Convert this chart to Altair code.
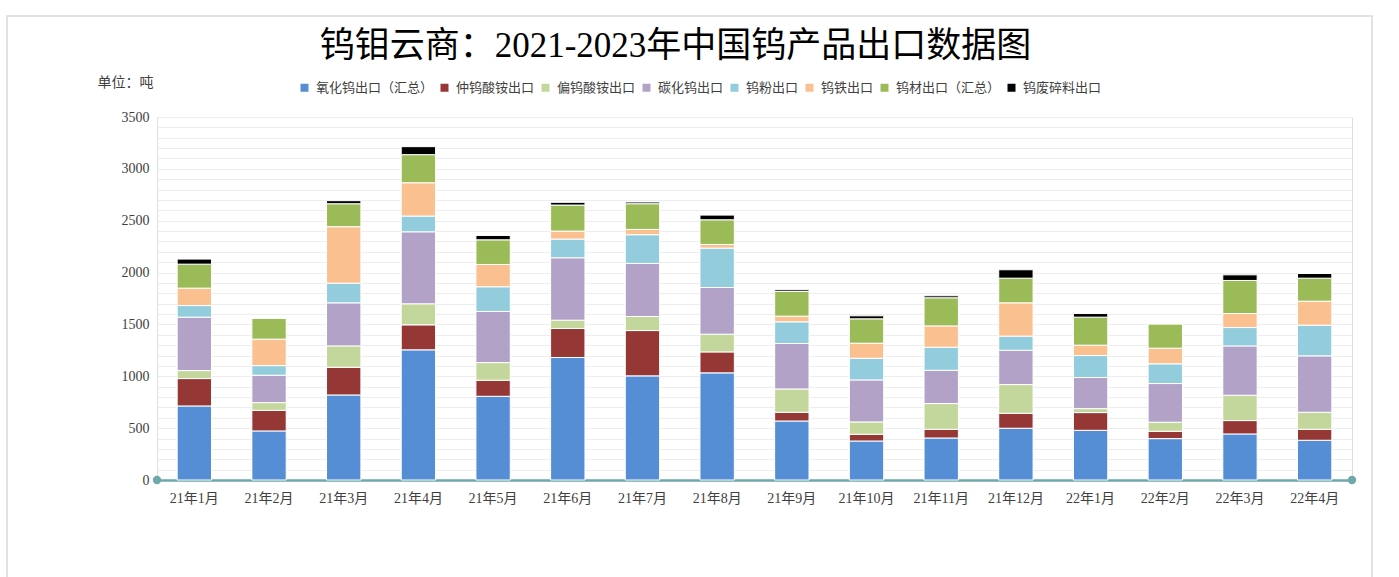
import altair as alt
import pandas as pd

months = ["21年1月", "21年2月", "21年3月", "21年4月", "21年5月", "21年6月", "21年7月", "21年8月",
          "21年9月", "21年10月", "21年11月", "21年12月", "22年1月", "22年2月", "22年3月", "22年4月"]

series = ["氧化钨出口（汇总）", "仲钨酸铵出口", "偏钨酸铵出口", "碳化钨出口",
          "钨粉出口", "钨铁出口", "钨材出口（汇总）", "钨废碎料出口"]

colors = ["#558ED5", "#953735", "#C3D69B", "#B3A2C7", "#93CDDD", "#FAC090", "#9BBB59", "#000000"]

wo3 = [714, 473, 820, 1255, 807, 1181, 1004, 1033, 569, 376, 405, 499, 479, 399, 444, 383]
apt = [264, 199, 267, 241, 155, 280, 437, 202, 84, 65, 84, 144, 171, 71, 129, 106]
amt = [77, 74, 206, 203, 170, 80, 135, 171, 225, 119, 248, 277, 38, 87, 244, 164]
wc = [515, 264, 415, 694, 493, 602, 512, 450, 438, 405, 321, 331, 300, 373, 476, 544]
wpow = [112, 93, 190, 152, 238, 180, 277, 380, 209, 209, 222, 136, 212, 190, 177, 296]
few = [168, 255, 544, 321, 215, 77, 51, 35, 55, 145, 206, 321, 100, 151, 135, 231]
wmat = [231, 202, 222, 271, 238, 251, 248, 238, 238, 235, 271, 238, 270, 235, 319, 222]
scrap = [49, 0, 29, 77, 42, 26, 16, 45, 16, 29, 19, 81, 35, 0, 54, 45]

values = [wo3, apt, amt, wc, wpow, few, wmat, scrap]

rows = []
for si, (name, vals) in enumerate(zip(series, values)):
    for m, v in zip(months, vals):
        rows.append({"月份": m, "类别": name, "出口量": v, "idx": si})
df = pd.DataFrame(rows)

FONT = "Liberation Serif, Noto Sans CJK SC"
W, H = 1195, 363

bars = alt.Chart(df).mark_bar(stroke="white", strokeWidth=1).encode(
    x=alt.X("月份:N", sort=months,
            scale=alt.Scale(paddingInner=0.54, paddingOuter=0.27),
            axis=alt.Axis(title=None, labelAngle=0, labelFontSize=14, labelColor="#404040",
                          labelFont=FONT, ticks=False, domainColor="#6FA8A8", domainWidth=2.5,
                          labelPadding=11, grid=False)),
    y=alt.Y("出口量:Q", stack="zero",
            scale=alt.Scale(domain=[0, 3500], nice=False),
            axis=alt.Axis(title="单位：吨", titleAngle=0, titleAlign="left", titleBaseline="middle",
                          titleX=-60, titleY=-35, titleFont=FONT, titleFontSize=14,
                          titleFontWeight="normal", titleColor="#404040",
                          values=list(range(0, 3501, 100)),
                          labelExpr="datum.value % 500 == 0 ? datum.label : ''",
                          format="d", labelFont=FONT, labelFontSize=14, labelColor="#404040",
                          labelPadding=8, ticks=False, domain=False,
                          gridColor="#EDEDED", gridWidth=1)),
    color=alt.Color("类别:N", scale=alt.Scale(domain=series, range=colors),
                    legend=alt.Legend(title=None, orient="none", direction="horizontal",
                                      legendX=141, legendY=-36, symbolType="square",
                                      symbolSize=64, symbolStrokeWidth=0, labelFont=FONT,
                                      labelFontSize=13, labelColor="#404040",
                                      labelOffset=5, columnPadding=4, columns=8)),
    order=alt.Order("idx:Q", sort="ascending"),
    tooltip=["月份", "类别", "出口量"],
)

ends = alt.Chart(pd.DataFrame({"p": ["start"]})).mark_circle(
    size=70, color="#6FA8A8", opacity=1
).encode(x=alt.value(0), y=alt.value(H))

ends2 = alt.Chart(pd.DataFrame({"p": ["end"]})).mark_circle(
    size=70, color="#6FA8A8", opacity=1
).encode(x=alt.value(W), y=alt.value(H))

frame = alt.Chart(pd.DataFrame({"f": [0]})).mark_rect(
    fill=None, stroke="#D9D9D9", strokeWidth=1.5
).encode(x=alt.value(-150), x2=alt.value(1215), y=alt.value(-101), y2=alt.value(470))

chart = alt.layer(frame, bars, ends, ends2).properties(
    width=W, height=H,
    title=alt.TitleParams("钨钼云商：2021-2023年中国钨产品出口数据图", font=FONT, fontSize=35,
                          fontWeight="normal", color="#000000", anchor="middle", dx=-79,
                          dy=59, offset=10),
    autosize=alt.AutoSizeParams(type="none"),
    padding={"left": 157, "top": 117, "right": 47, "bottom": 97},
).configure_view(stroke=None).configure(background="white")

chart.save("out.html", embed_options={"renderer": "svg", "actions": False})
